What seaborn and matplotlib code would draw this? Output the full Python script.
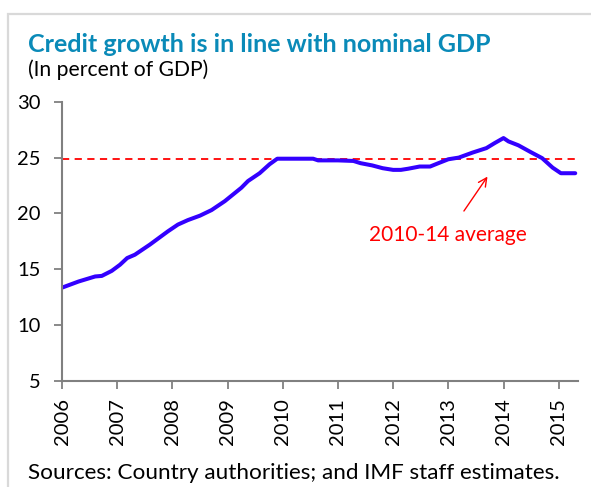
import matplotlib
matplotlib.use("Agg")
import matplotlib.pyplot as plt
from matplotlib.patches import Rectangle
import seaborn as sns
import pandas as pd

# Credit to the private sector, in percent of GDP
years = [2006.0, 2006.3, 2006.6, 2006.72, 2006.9, 2007.05, 2007.18, 2007.32,
         2007.59, 2007.92, 2008.1, 2008.28, 2008.5, 2008.71, 2008.95, 2009.25,
         2009.37, 2009.58, 2009.76, 2009.9, 2010.55, 2010.64, 2011.0, 2011.28,
         2011.41, 2011.62, 2011.81, 2012.0, 2012.14, 2012.27, 2012.48, 2012.67,
         2012.82, 2013.0, 2013.19, 2013.44, 2013.69, 2013.84, 2014.0, 2014.09,
         2014.27, 2014.49, 2014.7, 2014.89, 2015.04, 2015.3]
credit = [13.35, 13.9, 14.35, 14.4, 14.85, 15.4, 16.0, 16.3,
          17.2, 18.4, 19.0, 19.4, 19.8, 20.3, 21.1, 22.3,
          22.9, 23.6, 24.4, 24.9, 24.9, 24.75, 24.75, 24.7,
          24.5, 24.3, 24.05, 23.9, 23.9, 24.0, 24.2, 24.2,
          24.5, 24.85, 25.0, 25.45, 25.85, 26.3, 26.75, 26.45,
          26.1, 25.5, 24.95, 24.1, 23.6, 23.6]
average_2010_14 = 24.85
year_ticks = list(range(2006, 2016))
y_ticks = [5, 10, 15, 20, 25, 30]

title = "Credit growth is in line with nominal GDP"
subtitle = "(In percent of GDP)"
source = "Sources: Country authorities; and IMF staff estimates."
note = "2010-14 average"

sns.set_theme(style="white")
plt.rcParams["font.family"] = ["Lato", "DejaVu Sans"]

fig = plt.figure(figsize=(5.91, 4.87), dpi=100)
ax = fig.add_axes([0.105, 0.218, 0.873, 0.573])

df = pd.DataFrame({"year": years, "credit": credit})
sns.lineplot(data=df, x="year", y="credit", ax=ax, color="#3300FF",
             linewidth=2.9, legend=False)
ax.plot([years[0], years[-1]], [average_2010_14, average_2010_14],
        color="#FF0000", linestyle=(0, (4, 3)), linewidth=1.3, zorder=1)

ax.set_xlim(years[0], years[-1] + 0.05)
ax.set_ylim(5, 30)
ax.set_xticks(year_ticks)
ax.set_xticklabels([str(y) for y in year_ticks], rotation=90)
ax.set_yticks(y_ticks)
ax.set_xlabel("")
ax.set_ylabel("")

for side in ("top", "right"):
    ax.spines[side].set_visible(False)
for side in ("left", "bottom"):
    ax.spines[side].set_color("#808080")
    ax.spines[side].set_linewidth(1.5)
ax.tick_params(axis="both", which="major", direction="out", length=5.5,
               width=1.3, color="#808080", labelsize=14.5, labelcolor="black")
ax.tick_params(axis="x", bottom=True, pad=7)
ax.tick_params(axis="y", left=True, pad=10)

ax.annotate(note, xy=(2013.71, 23.3), xytext=(2012.99, 18.1),
            ha="center", va="center", color="#FF0000", fontsize=15,
            arrowprops=dict(arrowstyle="->", color="#FF0000", lw=1.0,
                            shrinkA=9, shrinkB=0))

fig.text(28 / 591, 1 - 45 / 487, title, fontsize=18, fontweight="bold",
         color="#0A8AB8", ha="left", va="center")
fig.text(28 / 591, 1 - 70 / 487, subtitle, fontsize=15.2, color="black",
         ha="left", va="center")
fig.text(28 / 591, 1 - 473 / 487, source, fontsize=16.2, color="black",
         ha="left", va="center")

# light frame around the panel
fig.patches.append(Rectangle((8 / 591, -0.1), 1.2, 1 - 14 / 487 + 0.1,
                             transform=fig.transFigure, fill=False,
                             edgecolor="#D9D9D9", linewidth=1.6))

fig.savefig("out.png", dpi=100)
